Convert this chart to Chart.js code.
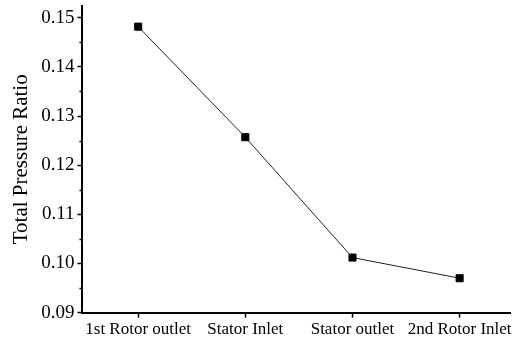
<!DOCTYPE html>
<html>
<head>
<meta charset="utf-8">
<script src="https://cdn.jsdelivr.net/npm/chart.js@4/dist/chart.umd.min.js"></script>
<style>
  html, body { margin: 0; padding: 0; background: #fff; }
  #wrap { width: 518px; height: 342px; }
</style>
</head>
<body>
<div id="wrap"><canvas id="chart"></canvas></div>
<script>
// data
const categories = ['1st Rotor outlet', 'Stator Inlet', 'Stator outlet', '2nd Rotor Inlet'];
const positions = [1, 2, 3, 4];
const ratioValues = [0.1482, 0.1257, 0.1012, 0.0970];
const yTicks = [0.09, 0.10, 0.11, 0.12, 0.13, 0.14, 0.15];
const yMinorTicks = [0.095, 0.105, 0.115, 0.125, 0.135, 0.145];

// minor ticks on the y axis
const minorTicks = {
    id: 'minorTicks',
    afterDraw(chart) {
        const ctx = chart.ctx;
        const y = chart.scales.y;
        const left = chart.chartArea.left;
        ctx.save();
        ctx.strokeStyle = '#000';
        ctx.lineWidth = 1.5;
        for (let i = 0; i < yMinorTicks.length; i++) {
            const py = Math.round(y.getPixelForValue(yMinorTicks[i])) + 0.5;
            ctx.beginPath();
            ctx.moveTo(left - 3, py);
            ctx.lineTo(left, py);
            ctx.stroke();
        }
        ctx.restore();
    }
};

const config = {
    type: 'line',
    data: {
        datasets: [{
            data: positions.map((p, i) => ({ x: p, y: ratioValues[i] })),
            borderColor: '#222',
            borderWidth: 1,
            pointStyle: 'rect',
            pointRadius: 5,
            pointBackgroundColor: '#000',
            pointBorderColor: '#000',
            tension: 0
        }]
    },
    options: {
        responsive: false,
        animation: false,
        layout: { padding: { top: 3, right: 8, left: 9, bottom: 0 } },
        plugins: {
            legend: { display: false },
            tooltip: { enabled: false }
        },
        scales: {
            x: {
                type: 'linear',
                min: 0.48,
                max: 4.47,
                afterBuildTicks: (axis) => { axis.ticks = positions.map(v => ({ value: v })); },
                ticks: {
                    color: '#000',
                    padding: 2,
                    maxRotation: 0,
                    font: { family: 'Liberation Serif', size: 17 },
                    callback: (v) => categories[positions.indexOf(v)]
                },
                grid: { drawOnChartArea: false, tickLength: 5, tickColor: '#000', tickWidth: 1.5 },
                border: { color: '#000', width: 2 }
            },
            y: {
                min: 0.09,
                max: 0.1524,
                afterBuildTicks: (axis) => { axis.ticks = yTicks.map(v => ({ value: v })); },
                // top label sits below the axis end, no need to reserve room for it
                afterFit: (axis) => { axis.paddingTop = 0; },
                ticks: {
                    color: '#000',
                    padding: 3,
                    font: { family: 'Liberation Serif', size: 19 },
                    callback: (v) => v.toFixed(2)
                },
                title: {
                    display: true,
                    text: 'Total Pressure Ratio',
                    color: '#000',
                    padding: { top: 0, bottom: 4 },
                    font: { family: 'Liberation Serif', size: 21 }
                },
                grid: { drawOnChartArea: false, tickLength: 5, tickColor: '#000', tickWidth: 1.5 },
                border: { color: '#000', width: 2 }
            }
        }
    },
    plugins: [minorTicks]
};

const canvas = document.getElementById('chart');
canvas.width = 518;
canvas.height = 342;
new Chart(canvas, config);
</script>
</body>
</html>
